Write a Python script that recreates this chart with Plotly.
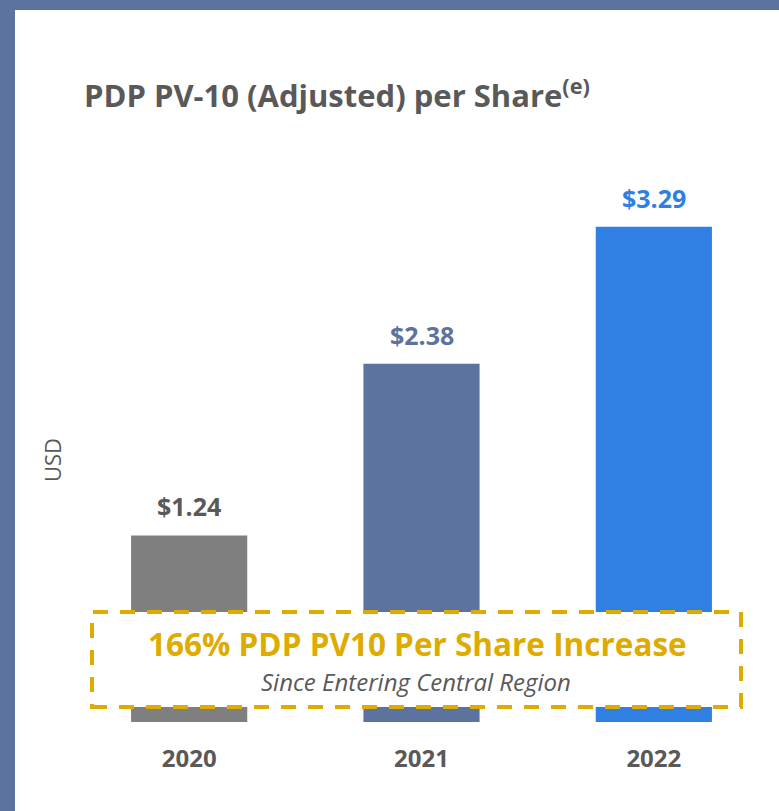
import plotly.graph_objects as go

years = ["2020", "2021", "2022"]
values = [1.24, 2.38, 3.29]
value_labels = ["$1.24", "$2.38", "$3.29"]
bar_colors = ["#7F7F7F", "#5B739E", "#2F80E2"]
label_colors = ["#595959", "#5B739E", "#2F80E2"]

title_text = "PDP PV-10 (Adjusted) per Share<sup>(e)</sup>"
callout_main = "166% PDP PV10 Per Share Increase"
callout_sub = "Since Entering Central Region"
y_title = "USD"

W, H = 779, 811
L, R, T, B = 73, 9, 180, 89
pw, ph = W - L - R, H - T - B

def px(x):
    return (x - L) / pw

def py(y):
    return (H - B - y) / ph

FONT = "Open Sans"
GRAY = "#595959"
GOLD = "#DEAB00"
BORDER = "#5B739E"

fig = go.Figure()
fig.add_trace(go.Bar(
    x=years, y=values, marker=dict(color=bar_colors, line=dict(width=0)),
    width=0.5, hoverinfo="skip",
))

annotations = []
for i, (v, t, c) in enumerate(zip(values, value_labels, label_colors)):
    annotations.append(dict(x=i, y=v, xref="x", yref="y",
                            text="<b>" + t.replace("$", "&#36;") + "</b>",
                            showarrow=False, yanchor="bottom", yshift=10,
                            font=dict(family=FONT, size=25, color=c)))

annotations += [
    dict(x=px(82), y=py(93), xref="paper", yref="paper", xanchor="left", yanchor="middle",
         text=f"<b>{title_text}</b>", showarrow=False,
         font=dict(family=FONT, size=31, color=GRAY)),
    dict(x=px(52), y=py(460), xref="paper", yref="paper", xanchor="center", yanchor="middle",
         text=y_title, textangle=-90, showarrow=False,
         font=dict(family=FONT, size=22, color=GRAY)),
    dict(x=px(417), y=py(643), xref="paper", yref="paper", xanchor="center", yanchor="middle",
         text=f"<b>{callout_main}</b>", showarrow=False,
         font=dict(family=FONT, size=31.5, color=GOLD)),
    dict(x=px(416), y=py(681), xref="paper", yref="paper", xanchor="center", yanchor="middle",
         text=f"<i>{callout_sub}</i>", showarrow=False,
         font=dict(family=FONT, size=24, color=GRAY)),
]

shapes = [
    dict(type="rect", xref="paper", yref="paper", x0=px(15), x1=px(W + 5), y0=py(H + 5), y1=py(10),
         fillcolor="white", line=dict(width=0), layer="below"),
    dict(type="rect", xref="paper", yref="paper", x0=px(92), x1=px(741), y0=py(707), y1=py(612),
         fillcolor="white", line=dict(color=GOLD, width=4, dash="15px,12px"), layer="above"),
]

fig.update_layout(
    width=W, height=H,
    margin=dict(l=L, r=R, t=T, b=B),
    paper_bgcolor=BORDER, plot_bgcolor="rgba(0,0,0,0)",
    showlegend=False,
    annotations=annotations, shapes=shapes,
    xaxis=dict(type="category", range=[-0.5, 2.5], showgrid=False, zeroline=False,
               showline=False, ticks="",
               tickfont=dict(family=FONT, size=24, color=GRAY), ticklabelstandoff=20,
               tickvals=years, ticktext=[f"<b>{y}</b>" for y in years]),
    yaxis=dict(range=[0, ph / 150.5], showgrid=False, zeroline=False, showline=False,
               showticklabels=False, ticks=""),
)

fig.write_html("out.html", config={"displayModeBar": False},
               post_script="document.body.style.margin='0';document.body.style.overflow='hidden';")
